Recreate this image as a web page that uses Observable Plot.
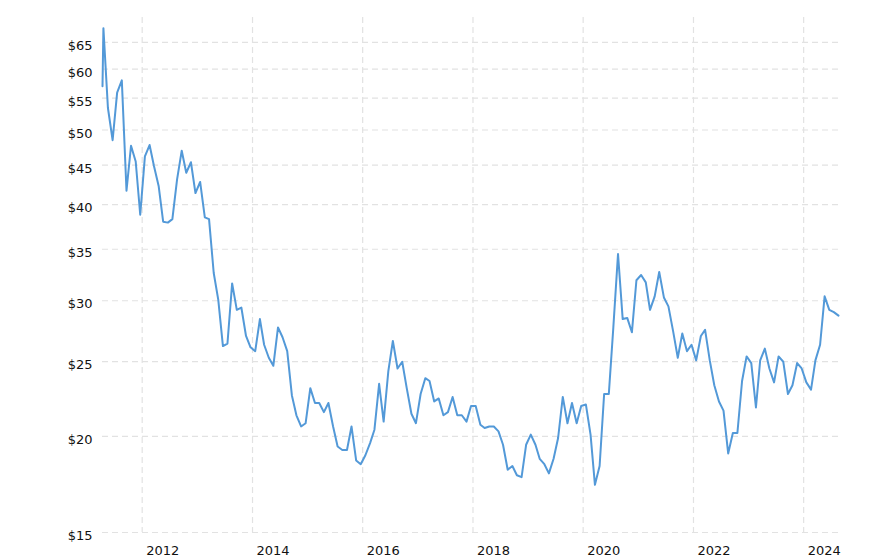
<!DOCTYPE html>
<html>
<head>
<meta charset="utf-8">
<script src="https://cdn.jsdelivr.net/npm/d3@7"></script>
<script src="https://cdn.jsdelivr.net/npm/@observablehq/plot@0.6"></script>
<style>
  html, body { margin: 0; padding: 0; background: #fff; }
  #chart { width: 888px; height: 560px; }
</style>
</head>
<body>
<div id="chart"></div>
<script>
// First observation (a few days before the first monthly point)
const firstDate = "2011-04-13";
const firstValue = 57.0;
// Monthly observations starting April 2011 (one per month, through Aug 2024)
const startMonth = "2011-04-19";
const monthlyValues = [
  // 2011 Apr-Dec
  67.8, 53.4, 48.5, 55.9, 58.0, 41.7, 47.7, 45.5, 38.8,
  // 2012
  46.2, 47.8, 44.9, 42.3, 38.0, 37.9, 38.3, 43.1, 47.0, 44.0, 45.4, 41.4,
  // 2013
  42.8, 38.5, 38.3, 32.6, 30.1, 26.2, 26.4, 31.6, 29.2, 29.4, 27.0, 26.1,
  // 2014
  25.8, 28.4, 26.3, 25.3, 24.7, 27.7, 26.9, 25.8, 22.6, 21.3, 20.6, 20.8,
  // 2015
  23.1, 22.1, 22.1, 21.5, 22.1, 20.6, 19.4, 19.2, 19.2, 20.6, 18.6, 18.4,
  // 2016
  18.9, 19.6, 20.4, 23.4, 20.9, 24.3, 26.6, 24.5, 25.0, 23.1, 21.4, 20.8,
  // 2017
  22.7, 23.8, 23.6, 22.2, 22.4, 21.3, 21.5, 22.5, 21.3, 21.3, 20.9, 21.9,
  // 2018
  21.9, 20.7, 20.5, 20.6, 20.6, 20.3, 19.5, 18.1, 18.3, 17.8, 17.7, 19.5,
  // 2019
  20.1, 19.5, 18.7, 18.4, 17.9, 18.7, 19.9, 22.5, 20.8, 22.1, 20.8, 21.9,
  // 2020
  22.0, 20.1, 17.3, 18.3, 22.7, 22.7, 27.7, 34.5, 28.4, 28.5, 27.3, 31.9,
  // 2021
  32.4, 31.7, 29.2, 30.4, 32.7, 30.3, 29.5, 27.4, 25.3, 27.2, 25.8, 26.3,
  // 2022
  25.1, 27.0, 27.5, 25.1, 23.3, 22.2, 21.6, 19.0, 20.2, 20.2, 23.6, 25.4,
  // 2023
  24.9, 21.8, 25.1, 26.0, 24.5, 23.5, 25.4, 25.0, 22.7, 23.3, 24.9, 24.5,
  // 2024 Jan-Aug
  23.5, 23.0, 25.1, 26.3, 30.4, 29.2, 29.0, 28.7
];
const xTickYears = [2012, 2014, 2016, 2018, 2020, 2022, 2024];
const yTickValues = [15, 20, 25, 30, 35, 40, 45, 50, 55, 60, 65];

const start = new Date(startMonth + "T00:00:00Z");
const data = [{date: new Date(firstDate + "T00:00:00Z"), value: firstValue}]
  .concat(monthlyValues.map((v, i) => ({date: d3.utcMonth.offset(start, i), value: v})));
const xTicks = xTickYears.map(y => new Date(Date.UTC(y, 0, 1)));

const gridStyle = {stroke: "#e2e2e2", strokeOpacity: 1, strokeWidth: 1.2, strokeDasharray: "6,4"};

const chart = Plot.plot({
  width: 888,
  height: 560,
  marginTop: 17,
  marginBottom: 28,
  marginLeft: 102,
  marginRight: 50,
  style: {fontFamily: "'DejaVu Sans', Verdana, sans-serif", fontSize: "13px", color: "#111", background: "#fff"},
  x: {type: "utc", domain: d3.extent(data, d => d.date)},
  y: {type: "log", domain: [15, 70]},
  marks: [
    Plot.gridY(yTickValues, gridStyle),
    Plot.gridX(xTicks, gridStyle),
    Plot.axisY(yTickValues, {tickSize: 0, tickPadding: 10, dy: 3.5, fontSize: 13, tickFormat: d => "$" + d, label: null}),
    Plot.axisX(xTicks, {tickSize: 0, tickPadding: 13, textAnchor: "start", dx: 4, fontSize: 13, tickFormat: d => String(d.getUTCFullYear()), label: null}),
    Plot.line(data, {x: "date", y: "value", stroke: "#5399d8", strokeWidth: 2, strokeLinejoin: "round"})
  ]
});
document.getElementById("chart").appendChild(chart);
</script>
</body>
</html>
